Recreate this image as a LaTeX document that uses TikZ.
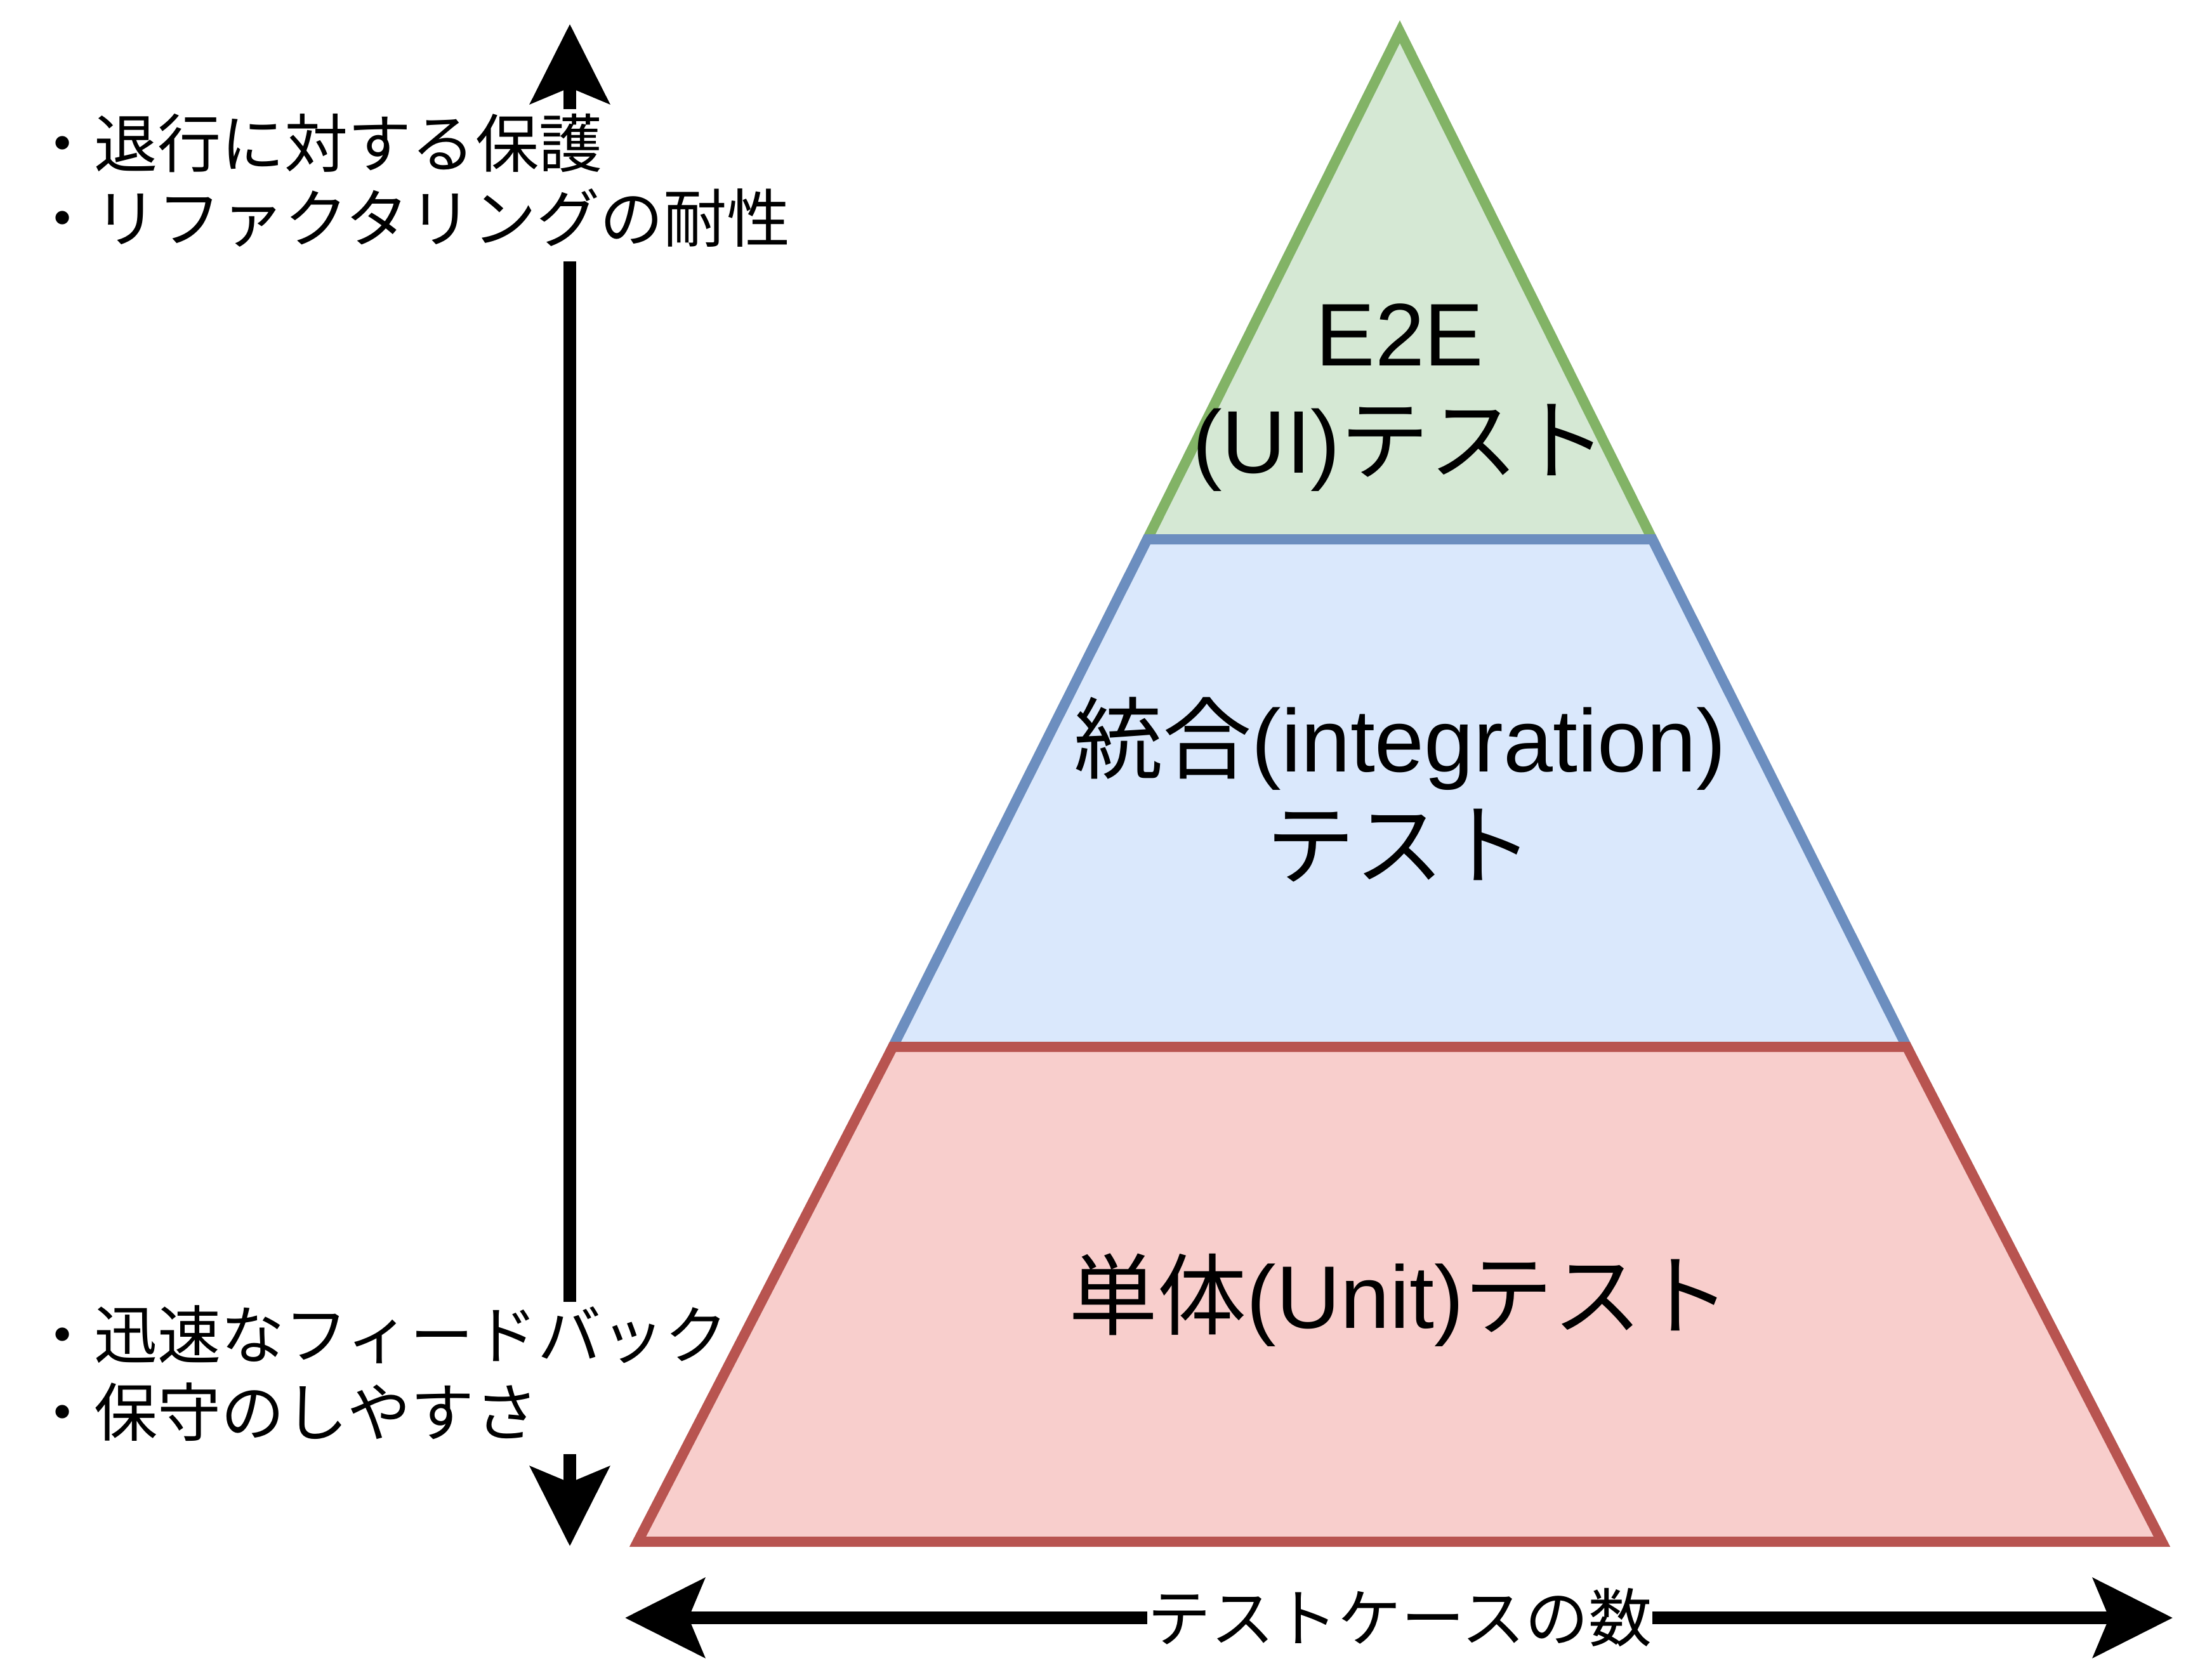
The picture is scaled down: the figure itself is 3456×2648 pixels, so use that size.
\documentclass[tikz,border=0pt]{standalone}
\usepackage{fontspec}
\setmainfont{Noto Sans CJK JP}
\newfontfamily\lat{Liberation Sans}
\usetikzlibrary{arrows.meta}
\definecolor{gfill}{HTML}{D5E8D4}
\definecolor{gline}{HTML}{82B366}
\definecolor{bfill}{HTML}{DAE8FC}
\definecolor{bline}{HTML}{6C8EBF}
\definecolor{rfill}{HTML}{F8CECC}
\definecolor{rline}{HTML}{B85450}
\tikzset{
  layer/.style={line width=0.16cm, line join=miter},
  axis/.style={line width=0.2cm, draw=black},
  bigtip/.style={-{Stealth[length=1.25cm, width=1.24cm, inset=0.25cm]}},
  sidetext/.style={inner sep=0pt, anchor=base west, font=\fontsize{28.45pt}{34.14pt}\selectfont},
  layertext/.style={inner sep=0pt, anchor=base, font=\fontsize{39.83pt}{48pt}\selectfont},
  axistext/.style={inner sep=0pt, font=\fontsize{28.45pt}{34.14pt}\selectfont}
}
\begin{document}
\begin{tikzpicture}[x=0.01cm, y=-0.01cm]
\useasboundingbox (0,0) rectangle (3456,2648);
% pyramid layers
\draw[layer, draw=gline, fill=gfill] (2206,50) -- (2604,850) -- (1808,850) -- cycle;
\draw[layer, draw=bline, fill=bfill] (1808,850) -- (2604,850) -- (3005,1650) -- (1407,1650) -- cycle;
\draw[layer, draw=rline, fill=rfill] (1407,1650) -- (3005,1650) -- (3407,2430) -- (1005,2430) -- cycle;
% layer labels
\node[layertext] (e2e1) at (2206,576) {\lat E2E};
\node[layertext] (e2e2) at (2206,745) {{\lat (UI)}テスト};
\node[layertext] (int1) at (2206,1216) {統合{\lat (integration)}};
\node[layertext] (int2) at (2206,1383) {テスト};
\node[layertext] (unit) at (2206,2093) {単体{\lat (Unit)}テスト};
% side texts
\node[sidetext] (up1) at (48,263) {・退行に対する保護};
\node[sidetext] (up2) at (48,381) {・リファクタリングの耐性};
\node[sidetext] (dn1) at (48,2141) {・迅速なフィードバック};
\node[sidetext] (dn2) at (48,2263) {・保守のしやすさ};
% vertical axis
\coordinate (vt) at (898,38);
\coordinate (vg1) at (898,172);
\coordinate (vg2) at (898,412);
\coordinate (vg3) at (898,2052);
\coordinate (vg4) at (898,2292);
\coordinate (vb) at (898,2437);
\draw[axis, bigtip] (vg1) -- (vt);
\draw[axis] (vg2) -- (vg3);
\draw[axis, bigtip] (vg4) -- (vb);
% horizontal axis
\node[axistext] (cnt) at (2206,2550) {テストケースの数};
\coordinate (ha) at (985,2550);
\coordinate (hb) at (3424,2550);
\draw[axis, bigtip] (cnt.west) -- (ha);
\draw[axis, bigtip] (cnt.east) -- (hb);
\end{tikzpicture}
\end{document}
